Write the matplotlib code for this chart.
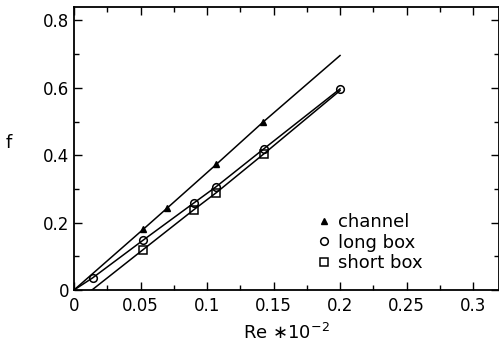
import matplotlib

matplotlib.use("Agg")
import matplotlib.pyplot as plt
from matplotlib.ticker import FixedLocator, MultipleLocator, FuncFormatter

# data
channel_re = [0.052, 0.070, 0.107, 0.142]
channel_f = [0.180, 0.243, 0.373, 0.498]
channel_line_re = [0.0, 0.052, 0.070, 0.107, 0.142, 0.200]
channel_line_f = [0.0, 0.180, 0.243, 0.373, 0.498, 0.696]

long_re = [0.014, 0.052, 0.090, 0.107, 0.143, 0.200]
long_f = [0.036, 0.148, 0.258, 0.307, 0.420, 0.597]
long_line_re = [0.0] + long_re
long_line_f = [0.0] + long_f

short_re = [0.052, 0.090, 0.107, 0.143]
short_f = [0.120, 0.238, 0.289, 0.405]
short_line_re = [0.0135, 0.052, 0.090, 0.107, 0.143, 0.200]
short_line_f = [0.0, 0.120, 0.238, 0.289, 0.405, 0.592]

X_TICKS = [0, 0.05, 0.1, 0.15, 0.2, 0.25, 0.3]
Y_TICKS = [0, 0.2, 0.4, 0.6, 0.8]

plt.rcParams["font.family"] = ["DejaVu Sans"]

fig = plt.figure(figsize=(4.99, 3.49), dpi=100)
ax = fig.add_axes([74 / 499, 59 / 349, 425 / 499, 283 / 349])

lw = 1.1
ax.plot(channel_line_re, channel_line_f, "-", color="black", linewidth=lw)
ax.plot(long_line_re, long_line_f, "-", color="black", linewidth=lw)
ax.plot(short_line_re, short_line_f, "-", color="black", linewidth=lw)

ms = 5
ax.plot(channel_re, channel_f, "^", color="black", markersize=ms - 0.5, linestyle="none",
        label="channel")
ax.plot(long_re, long_f, "o", markerfacecolor="none", markeredgecolor="black",
        markeredgewidth=1.1, markersize=ms + 0.5, linestyle="none", label="long box")
ax.plot(short_re, short_f, "s", markerfacecolor="none", markeredgecolor="black",
        markeredgewidth=1.1, markersize=ms + 0.5, linestyle="none", label="short box")

ax.set_xlim(0, 0.3195)
ax.set_ylim(0, 0.84)

ax.xaxis.set_major_locator(FixedLocator(X_TICKS))
ax.yaxis.set_major_locator(FixedLocator(Y_TICKS))
ax.xaxis.set_minor_locator(MultipleLocator(0.025))
ax.yaxis.set_minor_locator(MultipleLocator(0.1))


def _fmt(v, _pos):
    return "0" if abs(v) < 1e-9 else f"{v:g}"


ax.xaxis.set_major_formatter(FuncFormatter(_fmt))
ax.yaxis.set_major_formatter(FuncFormatter(_fmt))

ax.tick_params(which="both", direction="in", top=True, right=True, width=1.0,
               labelsize=12)
ax.tick_params(which="major", length=6)
ax.tick_params(which="minor", length=3.5)
ax.tick_params(axis="x", pad=5)
for sp in ax.spines.values():
    sp.set_linewidth(1.3)

ax.set_xlabel(r"Re $\ast 10^{-2}$", fontsize=13, labelpad=6)
ax.set_ylabel("f", fontsize=13, rotation=0, va="center", ha="center")
ax.yaxis.set_label_coords(-0.153, 0.518)

ax.legend(loc="upper left", bbox_to_anchor=(319 / 499, 136 / 349),
          bbox_transform=fig.transFigure, frameon=False, fontsize=13,
          handlelength=0.55, handletextpad=0.5, labelspacing=0.15, borderpad=0,
          borderaxespad=0)

fig.savefig("out.png", dpi=100)
